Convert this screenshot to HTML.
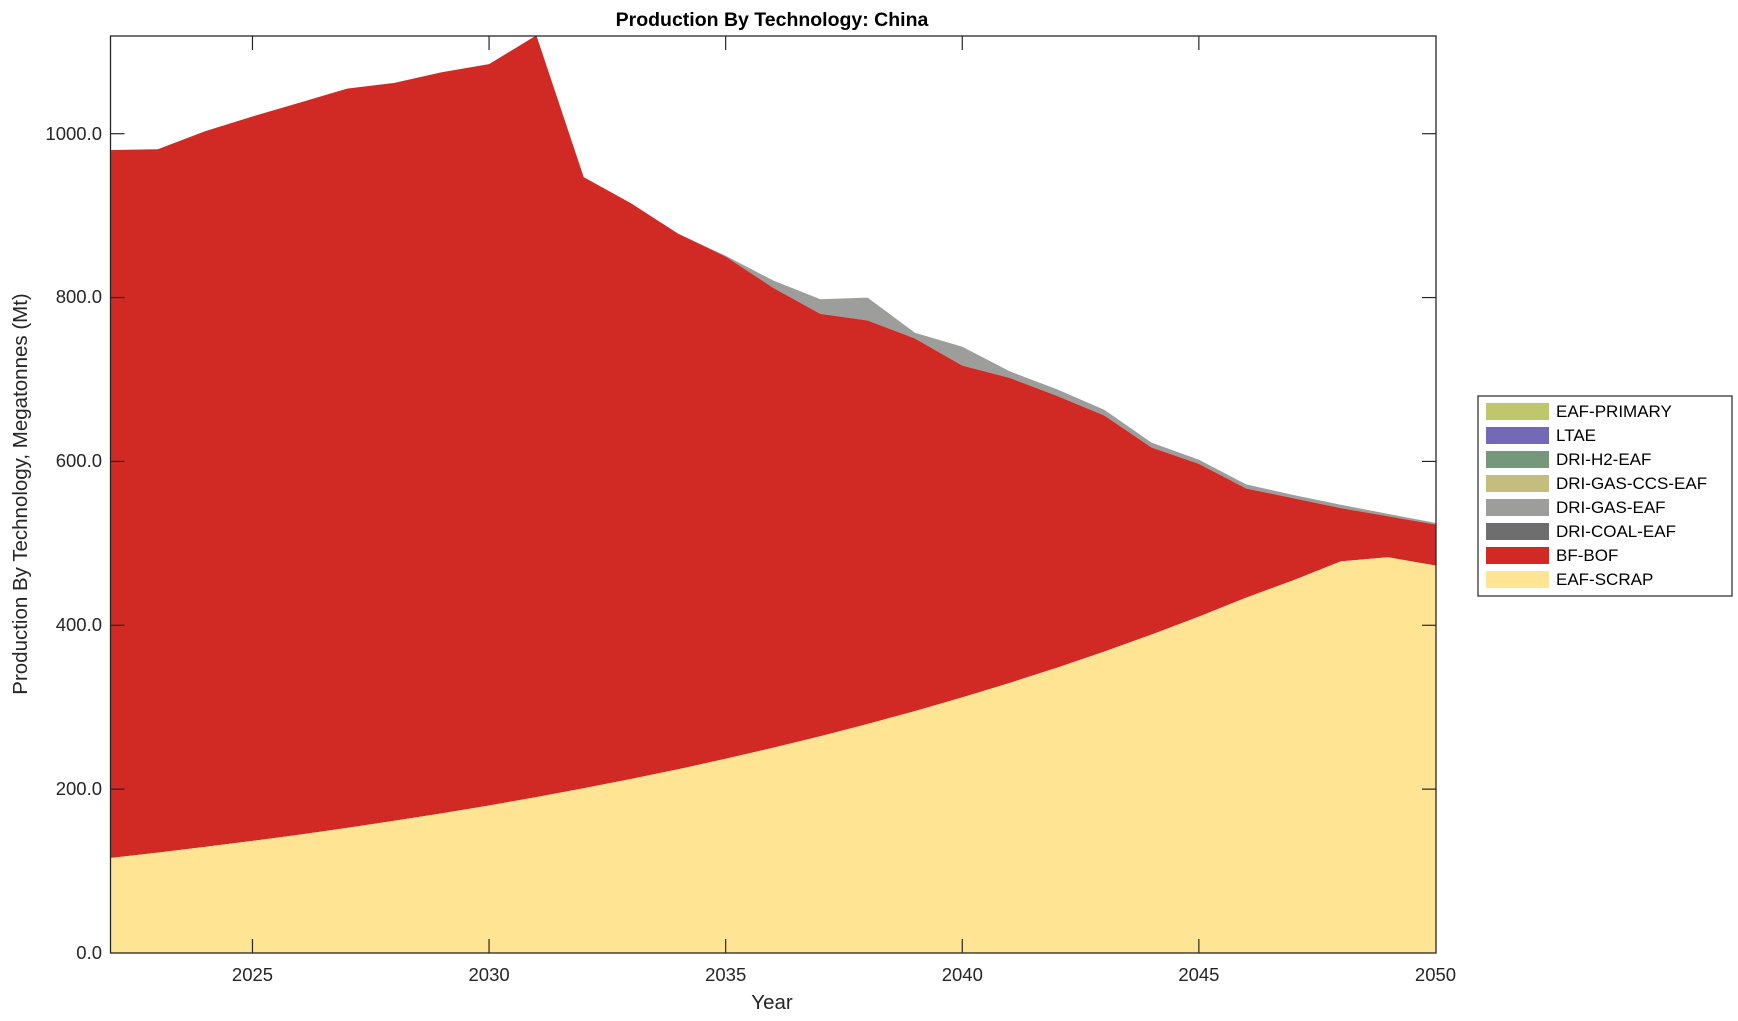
<!DOCTYPE html>
<html><head><meta charset="utf-8"><style>
html,body{margin:0;padding:0;background:#fff;}
svg{display:block;font-family:"Liberation Sans",Arial,sans-serif;}
</style></head><body>
<svg id="s" width="1738" height="1021" viewBox="0 0 1738 1021" xmlns="http://www.w3.org/2000/svg">
<g id="areas"></g>
<rect x="110.5" y="36" width="1325.5" height="917" fill="none" stroke="#262626" stroke-width="1.3"/>
<g id="ticks" stroke="#262626" stroke-width="1.2"></g>
<g font-size="18.5" fill="#262626" text-anchor="end">
<text x="102" y="959">0.0</text>
<text x="102" y="795">200.0</text>
<text x="102" y="631">400.0</text>
<text x="102" y="467">600.0</text>
<text x="102" y="303">800.0</text>
<text x="102" y="140">1000.0</text>
</g>
<g font-size="18.5" fill="#262626" text-anchor="middle">
<text x="252.5" y="981">2025</text>
<text x="489.1" y="981">2030</text>
<text x="725.7" y="981">2035</text>
<text x="962.3" y="981">2040</text>
<text x="1198.9" y="981">2045</text>
<text x="1435.5" y="981">2050</text>
<text x="772" y="1009" font-size="20.5">Year</text>
<text x="772" y="26" font-size="19.5" font-weight="bold" fill="#000">Production By Technology: China</text>
<text transform="translate(27,494) rotate(-90)" font-size="20.5">Production By Technology, Megatonnes (Mt)</text>
</g>
<rect x="1478" y="396" width="254" height="200" fill="#fff" stroke="#262626" stroke-width="1.2"/>
<g font-size="17" fill="#000">
<rect x="1486" y="403" width="63" height="17" fill="#bec76b"/><text x="1556" y="417">EAF-PRIMARY</text>
<rect x="1486" y="427" width="63" height="17" fill="#7469b7"/><text x="1556" y="441">LTAE</text>
<rect x="1486" y="451" width="63" height="17" fill="#74987b"/><text x="1556" y="465">DRI-H2-EAF</text>
<rect x="1486" y="475" width="63" height="17" fill="#c5bd7d"/><text x="1556" y="489">DRI-GAS-CCS-EAF</text>
<rect x="1486" y="499" width="63" height="17" fill="#9d9d9b"/><text x="1556" y="513">DRI-GAS-EAF</text>
<rect x="1486" y="523" width="63" height="17" fill="#6e6e6e"/><text x="1556" y="537">DRI-COAL-EAF</text>
<rect x="1486" y="547" width="63" height="17" fill="#d12a24"/><text x="1556" y="561">BF-BOF</text>
<rect x="1486" y="571" width="63" height="17" fill="#ffe494"/><text x="1556" y="585">EAF-SCRAP</text>
</g>
</svg>
<script>
var NS="http://www.w3.org/2000/svg";
function X(y){return 110.5+(y-2022)*47.32;}
function Y(v){return 953-v*0.8193;}
var red=[980,981,1003,1021,1038,1055,1062,1075,1085,1120,947,915,878,850,812,780,772,750,717,702,680,656,617,597,567,555,543,533,523];
var gray=red.slice();
var g2=[851,821,798,800,757,740,710,688,663,623,602,572,559,547,536,525];
for(var i=0;i<g2.length;i++)gray[13+i]=g2[i];
var scrap=[];
for(var i=0;i<=28;i++){scrap.push(116*Math.pow(1.0565,i));}
scrap[25]=455;scrap[26]=478;scrap[27]=483;scrap[28]=473;
function area(top,bot,col){
  var d="M"+X(2022)+","+Y(top[0]);
  for(var i=1;i<=28;i++)d+=" L"+X(2022+i).toFixed(1)+","+Y(top[i]).toFixed(1);
  for(var i=28;i>=0;i--)d+=" L"+X(2022+i).toFixed(1)+","+(bot?Y(bot[i]):953).toFixed(1);
  d+="Z";
  var p=document.createElementNS(NS,"path");p.setAttribute("d",d);p.setAttribute("fill",col);
  document.getElementById("areas").appendChild(p);
}
area(gray,red,"#9d9d9b");
area(red,scrap,"#d12a24");
area(scrap,null,"#ffe494");
var t=document.getElementById("ticks");
function ln(a,b,c,d){var l=document.createElementNS(NS,"line");l.setAttribute("x1",a);l.setAttribute("y1",b);l.setAttribute("x2",c);l.setAttribute("y2",d);t.appendChild(l);}
for(var y=2025;y<2050;y+=5){ln(X(y),953,X(y),939);ln(X(y),36,X(y),50);}
for(var v=200;v<=1000;v+=200){ln(110.5,Y(v),124.5,Y(v));ln(1436,Y(v),1422,Y(v));}
</script>
</body></html>
